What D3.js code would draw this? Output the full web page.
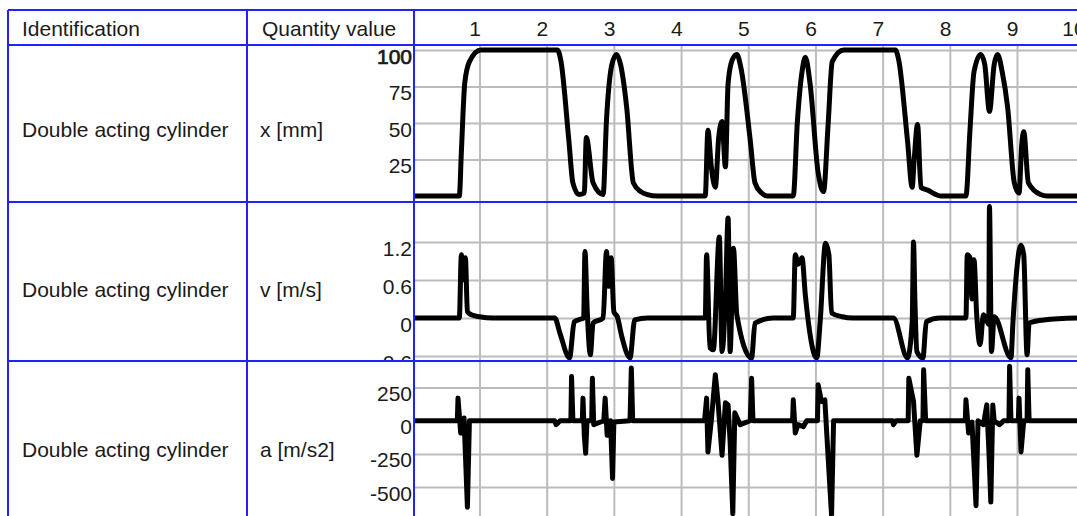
<!DOCTYPE html>
<html>
<head>
<meta charset="utf-8">
<script src="https://cdn.jsdelivr.net/npm/d3@7"></script>
<style>
body { margin: 0; background: #fff; }
svg { display: block; }
text { font-family: "Liberation Sans", Arial, sans-serif; fill: #1a1a1a; }
</style>
</head>
<body>
<svg id="chart" width="1077" height="516"></svg>
<script>
// ** Data **
var headers = ["Identification", "Quantity value"];
var components = ["Double acting cylinder", "Double acting cylinder", "Double acting cylinder"];
var quantities = ["x [mm]", "v [m/s]", "a [m/s2]"];
var timeTicks = [1, 2, 3, 4, 5, 6, 7, 8, 9, 10];

var posTicks = [25, 50, 75, 100];
var velTicks = [-0.6, 0, 0.6, 1.2];
var accTicks = [-500, -250, 0, 250];

// position x [mm]
var posTime = [0.03, 0.70, 0.73, 0.78, 0.85, 1.02, 2.16, 2.21, 2.33, 2.39, 2.48, 2.56, 2.59, 2.69, 2.84, 2.89, 2.97, 3.04, 3.10, 3.19, 3.29, 3.40, 3.50, 3.65,
	4.36, 4.40, 4.45, 4.51, 4.56, 4.61, 4.66, 4.70, 4.76, 4.83, 4.89, 5.03, 5.10, 5.20, 5.28,
	5.67, 5.73, 5.80, 5.85, 5.92, 6.04, 6.12, 6.19, 6.25, 6.42, 7.19, 7.24, 7.37, 7.44, 7.47, 7.52, 7.57, 7.67, 7.87,
	8.24, 8.30, 8.36, 8.46, 8.52, 8.59, 8.66, 8.71, 8.78, 8.86, 8.96, 9.03, 9.07, 9.10, 9.17, 9.35, 9.45, 9.95];
var posValue = [0, 0, 30, 77, 92, 100, 100, 93, 38, 9, 1, 2, 40, 9, 1, 52, 90, 97, 90, 61, 9, 3, 1, 0,
	0, 45, 20, 6, 40, 51, 20, 77, 93, 97, 88, 38, 9, 2, 0,
	0, 50, 85, 95, 77, 16, 3, 50, 92, 100, 100, 93, 38, 6, 25, 49, 6, 4, 0,
	0, 45, 85, 97, 90, 58, 90, 97, 85, 61, 9, 2, 35, 44, 9, 1, 0, 0];

// velocity v [m/s]
var velTime = [0.03, 0.70, 0.73, 0.75, 0.79, 0.82, 0.88, 1.00, 1.20, 2.12, 2.20, 2.34, 2.41, 2.50, 2.55, 2.57, 2.60, 2.65, 2.69, 2.84,
	2.89, 2.92, 2.96, 3.00, 3.05, 3.12, 3.24, 3.31, 3.50,
	4.36, 4.38, 4.43, 4.48, 4.57, 4.61, 4.66, 4.70, 4.73, 4.78, 4.83, 5.05, 5.10, 5.37,
	5.67, 5.70, 5.74, 5.80, 5.85, 6.02, 6.07, 6.15, 6.20, 6.24, 6.40, 6.55,
	7.16, 7.37, 7.44, 7.46, 7.48, 7.51, 7.60, 7.65, 7.85,
	8.24, 8.26, 8.30, 8.33, 8.36, 8.40, 8.45, 8.50, 8.58, 8.59, 8.62, 8.66, 8.91, 8.94, 9.06, 9.10, 9.15, 9.18, 9.40, 9.95];
var velValue = [0, 0, 1.0, 0.6, 0.95, 0.1, 0.05, 0.02, 0, 0, -0.25, -0.63, -0.06, -0.02, 0, 1.05, 0.2, -0.58, -0.08, 0,
	1.05, 0.5, 0.95, 0.1, 0.02, -0.3, -0.63, -0.03, 0,
	0, 1.0, -0.47, -0.5, 1.28, -0.53, 0.3, 1.58, -0.53, 1.1, 0.05, -0.63, -0.08, 0,
	0, 1.0, 0.85, 0.95, 0.36, -0.63, -0.06, 1.18, 1.0, 0.08, 0.02, 0,
	0, -0.63, -0.06, 1.2, 0.3, -0.53, -0.63, -0.06, 0,
	0, 1.0, 0.95, 0.3, 0.92, 0.05, -0.42, 0.05, -0.1, 1.76, -0.53, 0.02, -0.63, -0.06, 1.15, 1.0, -0.58, -0.08, -0.03, 0];

// acceleration a [m/s2]
var accTime = [0.03, 0.67, 0.68, 0.72, 0.77, 0.82, 0.85, 2.12, 2.14, 2.20, 2.36, 2.37, 2.39, 2.53, 2.54, 2.56, 2.58, 2.60, 2.67, 2.68, 2.70,
	2.85, 2.87, 2.90, 2.95, 2.98, 3.00, 3.24, 3.26, 3.28,
	4.35, 4.38, 4.40, 4.45, 4.51, 4.55, 4.61, 4.66, 4.70, 4.73, 4.77, 4.80, 4.88, 5.03, 5.05, 5.07,
	5.66, 5.67, 5.70, 5.74, 5.82, 5.87, 6.03, 6.04, 6.09, 6.14, 6.17, 6.24, 6.27,
	7.15, 7.16, 7.20, 7.38, 7.39, 7.46, 7.51, 7.56, 7.60, 7.61, 7.64,
	8.23, 8.24, 8.28, 8.33, 8.39, 8.42, 8.50, 8.55, 8.58, 8.61, 8.64, 8.66, 8.74, 8.80, 8.88, 8.89, 8.91,
	9.02, 9.03, 9.06, 9.10, 9.15, 9.16, 9.18, 9.95];
var accValue = [0, 0, 170, -93, 20, -651, 0, 0, -30, 0, 0, 333, 0, 0, 170, -110, -245, 0, 0, 320, -30,
	0, 170, -110, 0, -435, -10, 0, 397, 0,
	0, 170, -235, 0, 346, 144, -260, 135, 119, -159, -700, 60, -30, 0, 320, 0,
	0, 157, -93, -30, -45, 0, 0, 270, 144, 157, -110, -715, 0,
	0, -30, 0, 0, 320, 144, -260, 0, 0, 384, 0,
	0, 157, -93, -10, -640, 0, -30, 119, -207, -613, 119, 0, -30, 0, 0, 410, 0,
	0, 170, -235, 0, 0, 384, 0, 0];

// ** Layout **
var width = 1077, height = 516;
var tableLeft = 8, tableTop = 10, headerBottom = 45;
var colSplit = 247, plotLeft = 414;
var fontSize = 21;
var gridColor = "#bcbcbc";
var borderColor = "#2222ff";

// position and velocity look smoothed, acceleration is drawn as straight bars
var rows = [
	{ top: 45, bottom: 202, ticks: posTicks, time: posTime, values: posValue, curve: d3.curveMonotoneX,
		y: d3.scaleLinear().domain([0, 100]).range([196, 50]), textY: 137 },
	{ top: 202, bottom: 361, ticks: velTicks, time: velTime, values: velValue, curve: d3.curveMonotoneX,
		y: d3.scaleLinear().domain([0, 1.2]).range([318, 242]), textY: 297 },
	{ top: 361, bottom: 520, ticks: accTicks, time: accTime, values: accValue, curve: d3.curveLinear,
		y: d3.scaleLinear().domain([0, 250]).range([420.7, 387.5]), textY: 457 }
];

var x = d3.scaleLinear().domain([1, 9]).range([479.5, 1017]);

var svg = d3.select("#chart");
var defs = svg.append("defs");

// Header
svg.append("text").attr("x", 22).attr("y", 36).attr("font-size", fontSize).text(headers[0]);
svg.append("text").attr("x", 262).attr("y", 36).attr("font-size", fontSize).text(headers[1]);

var xAxisCall = d3.axisTop(x)
	.tickValues(timeTicks)
	.tickSize(0)
	.tickPadding(0)
	.tickFormat(d3.format("d"));
var xAxis = svg.append("g")
	.attr("transform", "translate(1, 36)")
	.call(xAxisCall);
xAxis.select(".domain").remove();
xAxis.selectAll("text")
	.attr("y", 0)
	.attr("dy", null)
	.attr("text-anchor", "end")
	.attr("font-family", null)
	.attr("font-size", fontSize)
	.attr("fill", "#1a1a1a");

// Rows
rows.forEach(function(row, i){
	var clipId = "clip" + i;
	defs.append("clipPath").attr("id", clipId)
		.append("rect")
		.attr("x", 0).attr("y", row.top)
		.attr("width", width).attr("height", row.bottom - row.top);

	var g = svg.append("g").attr("clip-path", "url(#" + clipId + ")");

	// vertical grid
	var vGrid = g.append("g")
		.attr("transform", "translate(0, " + row.top + ")")
		.call(d3.axisBottom(x).tickValues(timeTicks).tickSize(row.bottom - row.top).tickFormat(""));
	vGrid.select(".domain").remove();
	vGrid.selectAll("line").attr("stroke", gridColor).attr("stroke-width", 2);

	// horizontal grid
	var hGrid = g.append("g")
		.attr("transform", "translate(" + plotLeft + ", 0)")
		.call(d3.axisRight(row.y).tickValues(row.ticks).tickSize(width - plotLeft).tickFormat(""));
	hGrid.select(".domain").remove();
	hGrid.selectAll("line").attr("stroke", gridColor).attr("stroke-width", 2);

	// data line
	var line = d3.line()
		.curve(row.curve)
		.x(function(d){ return x(d[0]); })
		.y(function(d){ return row.y(d[1]); });
	g.append("path")
		.datum(d3.zip(row.time, row.values))
		.attr("fill", "none")
		.attr("stroke", "#000")
		.attr("stroke-width", 5)
		.attr("stroke-linejoin", "round")
		.attr("d", line);

	// y labels: top of digits sits on the grid line
	var yAxis = g.append("g")
		.attr("transform", "translate(" + (plotLeft - 2) + ", 0)")
		.call(d3.axisLeft(row.y).tickValues(row.ticks).tickSize(0).tickPadding(0)
			.tickFormat(function(d){ return String(d); }));
	yAxis.select(".domain").remove();
	yAxis.selectAll("text")
		.attr("dy", null)
		.attr("font-family", null)
		.attr("font-size", fontSize)
		.attr("fill", "#1a1a1a")
		.attr("y", function(d){
			var top = Math.max(row.y(d) - 2, row.top);
			return top - row.y(d) + 15;
		})
		.attr("stroke", function(d){ return d === 100 ? "#1a1a1a" : null; })
		.attr("stroke-width", function(d){ return d === 100 ? 0.7 : null; });

	// row texts
	svg.append("text").attr("x", 22).attr("y", row.textY).attr("font-size", fontSize).text(components[i]);
	svg.append("text").attr("x", 260).attr("y", row.textY).attr("font-size", fontSize).text(quantities[i]);
});

// Table borders
var hLines = [tableTop, headerBottom].concat(rows.map(function(r){ return r.bottom; }));
svg.selectAll(".hborder")
	.data(hLines)
	.enter().append("line")
	.attr("x1", tableLeft).attr("x2", width)
	.attr("y1", function(d){ return d; }).attr("y2", function(d){ return d; })
	.attr("stroke", borderColor).attr("stroke-width", 2);
svg.selectAll(".vborder")
	.data([tableLeft, colSplit, plotLeft])
	.enter().append("line")
	.attr("x1", function(d){ return d; }).attr("x2", function(d){ return d; })
	.attr("y1", tableTop).attr("y2", height)
	.attr("stroke", borderColor).attr("stroke-width", 2);
</script>
</body>
</html>
